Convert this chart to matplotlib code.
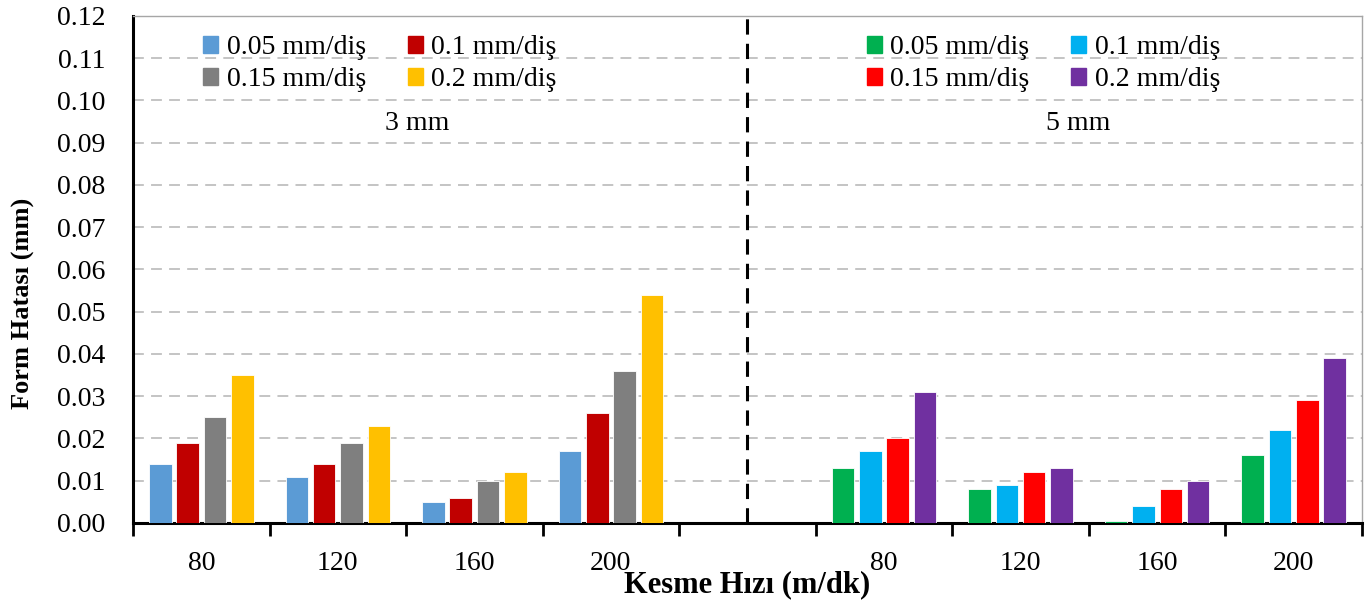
import numpy as np
import matplotlib.pyplot as plt
from matplotlib.patches import Patch

plt.rcParams['font.family'] = ['Liberation Serif', 'DejaVu Serif']

speeds = ['80', '120', '160', '200']
feeds = ['0.05 mm/diş', '0.1 mm/diş', '0.15 mm/diş', '0.2 mm/diş']

# 3 mm depth of cut
err_3mm = [
    [0.014, 0.011, 0.005, 0.017],   # 0.05
    [0.019, 0.014, 0.006, 0.026],   # 0.1
    [0.025, 0.019, 0.010, 0.036],   # 0.15
    [0.035, 0.023, 0.012, 0.054],   # 0.2
]
# 5 mm depth of cut
err_5mm = [
    [0.013, 0.008, 0.0005, 0.016],
    [0.017, 0.009, 0.004, 0.022],
    [0.020, 0.012, 0.008, 0.029],
    [0.031, 0.013, 0.010, 0.039],
]
colors_3mm = ['#5B9BD5', '#C00000', '#7F7F7F', '#FFC000']
colors_5mm = ['#00B050', '#00B0F0', '#FF0000', '#7030A0']

fig = plt.figure(figsize=(13.67, 6.06), dpi=100)
ax = fig.add_axes([0.0973, 0.137, 0.899, 0.8366])

x_left = np.arange(4)
x_right = np.arange(4) + 5
offsets = [-0.3, -0.1, 0.1, 0.3]
w = 0.165

h_left, h_right = [], []
for i in range(4):
    ax.bar(x_left + offsets[i], err_3mm[i], w, color=colors_3mm[i],
           edgecolor='white', linewidth=0.6, zorder=3)
    h_left.append(Patch(color=colors_3mm[i]))
    ax.bar(x_right + offsets[i], err_5mm[i], w, color=colors_5mm[i],
           edgecolor='white', linewidth=0.6, zorder=3)
    h_right.append(Patch(color=colors_5mm[i]))

ax.set_xlim(-0.5, 8.5)
ax.set_ylim(0, 0.12)
yt = np.arange(0, 0.121, 0.01)
ax.set_yticks(yt)
ax.set_yticklabels([f'{v:.2f}' for v in yt])
ax.yaxis.grid(True, color='#BFBFBF', linestyle=(0, (6, 4)), linewidth=1.3, zorder=0)
ax.set_axisbelow(True)

# category labels in slot centres, tick marks at slot boundaries
ax.set_xticks(list(x_left) + list(x_right))
ax.set_xticklabels(speeds + speeds)
ax.set_xticks(np.arange(-0.5, 9, 1), minor=True)
ax.tick_params(axis='x', which='major', length=0, pad=20, labelsize=20)
ax.tick_params(axis='x', which='minor', length=9, width=2, direction='out')
ax.tick_params(axis='y', length=0, pad=20, labelsize=20)

ax.axvline(4, color='black', linestyle=(0, (5, 3)), linewidth=2.2, zorder=4)

for s in ['left', 'bottom']:
    ax.spines[s].set_linewidth(2.2)
    ax.spines[s].set_color('black')
for s in ['top', 'right']:
    ax.spines[s].set_linewidth(1)
    ax.spines[s].set_color('#A6A6A6')

ax.text(1.58, 0.0945, '3 mm', ha='center', va='center', fontsize=20)
ax.text(6.42, 0.0945, '5 mm', ha='center', va='center', fontsize=20)

# legends read row by row: 0.05, 0.1 / 0.15, 0.2
order = [0, 2, 1, 3]
leg_kw = dict(ncol=2, frameon=False, fontsize=20, handlelength=0.55, handleheight=0.55,
              handletextpad=0.3, columnspacing=1.5, labelspacing=0.25, loc='upper left',
              borderpad=0, borderaxespad=0)
leg1 = ax.legend([h_left[k] for k in order], [feeds[k] for k in order],
                 bbox_to_anchor=(0.057, 0.962), **leg_kw)
ax.add_artist(leg1)
ax.legend([h_right[k] for k in order], [feeds[k] for k in order],
          bbox_to_anchor=(0.597, 0.962), **leg_kw)

ax.set_xlabel('Kesme Hızı (m/dk)', fontsize=22, fontweight='bold', labelpad=-4)
ax.set_ylabel('Form Hatası (mm)', fontsize=19, fontweight='bold', va='center')
ax.yaxis.set_label_coords(-0.0895, 0.434)

fig.savefig('out.png', dpi=100, facecolor='white')
